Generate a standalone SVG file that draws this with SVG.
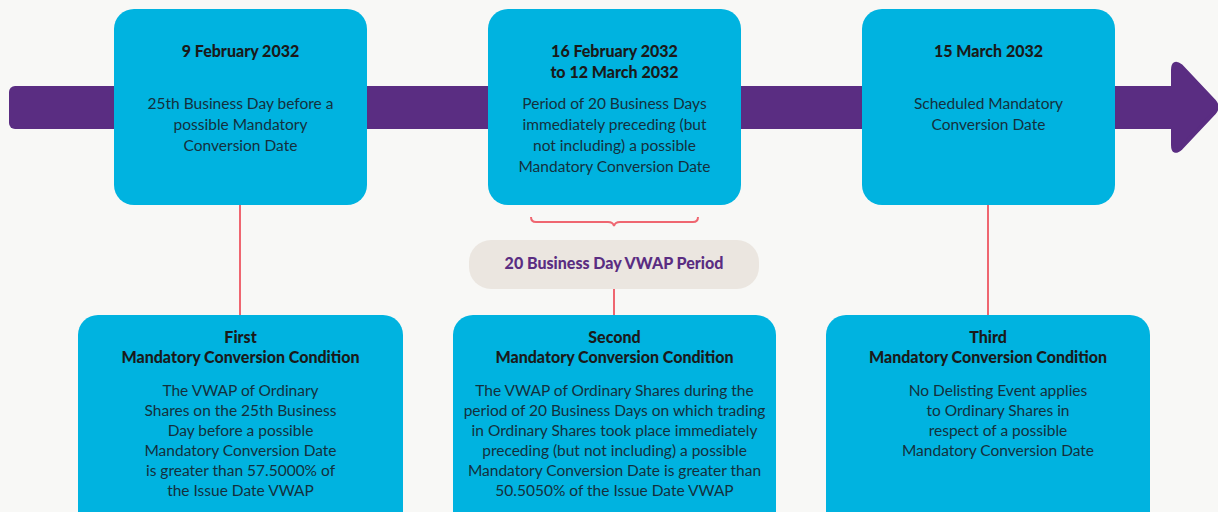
<svg xmlns="http://www.w3.org/2000/svg" width="1218" height="512" viewBox="0 0 1218 512">
<style>
.box{fill:#00b3e0}
.t{font-family:Lato,"Noto Sans",sans-serif;font-size:16px;font-weight:900;fill:#1a1a1a;text-anchor:middle}
.b{font-family:Lato,"Noto Sans",sans-serif;font-size:15.5px;fill:#14303d;text-anchor:middle}
.ln{stroke:#ef6670;stroke-width:2;fill:none}
</style>
<rect width="1218" height="512" fill="#f8f8f6"/>
<g id="timeline">
<rect x="9" y="86" width="1175" height="43" rx="6" fill="#5a2d82"/>
<path d="M1173 70 Q1173 60 1181 66 L1214 101 Q1219 107 1214 113 L1181 148 Q1173 155 1173 145 Z" fill="#5a2d82" stroke="#5a2d82" stroke-width="4" stroke-linejoin="round"/>
</g>
<g id="connectors">
<line class="ln" x1="240" y1="205" x2="240" y2="316"/>
<line class="ln" x1="988" y1="205" x2="988" y2="316"/>
<line class="ln" x1="614" y1="289" x2="614" y2="316"/>
<path class="ln" d="M531 217 Q531 222 536 222 L608 222 Q613 222 614 226 Q615 222 620 222 L693 222 Q698 222 698 217"/>
</g>
<g id="date1">
<rect class="box" x="114" y="9" width="253" height="196" rx="20"/>
<text class="t" x="240.5" y="57">9 February 2032</text>
<text class="b" x="240.5" y="109">25th Business Day before a</text>
<text class="b" x="240.5" y="130">possible Mandatory</text>
<text class="b" x="240.5" y="151">Conversion Date</text>
</g>
<g id="date2">
<rect class="box" x="488" y="9" width="253" height="196" rx="20"/>
<text class="t" x="614.5" y="57">16 February 2032</text>
<text class="t" x="614.5" y="78">to 12 March 2032</text>
<text class="b" x="614.5" y="109">Period of 20 Business Days</text>
<text class="b" x="614.5" y="130">immediately preceding (but</text>
<text class="b" x="614.5" y="151">not including) a possible</text>
<text class="b" x="614.5" y="172">Mandatory Conversion Date</text>
</g>
<g id="date3">
<rect class="box" x="862" y="9" width="253" height="196" rx="20"/>
<text class="t" x="988.5" y="57">15 March 2032</text>
<text class="b" x="988.5" y="109">Scheduled Mandatory</text>
<text class="b" x="988.5" y="130">Conversion Date</text>
</g>
<g id="vwap">
<rect x="469" y="240" width="290" height="49" rx="22" fill="#ebe6e0"/>
<text class="t" x="614" y="269" style="fill:#5a2d82">20 Business Day VWAP Period</text>
</g>
<g id="cond1">
<rect class="box" x="78" y="315" width="325" height="220" rx="20"/>
<text class="t" x="240.5" y="343">First</text>
<text class="t" x="240.5" y="363">Mandatory Conversion Condition</text>
<text class="b" x="240.5" y="396">The VWAP of Ordinary</text>
<text class="b" x="240.5" y="416">Shares on the 25th Business</text>
<text class="b" x="240.5" y="436">Day before a possible</text>
<text class="b" x="240.5" y="456">Mandatory Conversion Date</text>
<text class="b" x="240.5" y="476">is greater than 57.5000% of</text>
<text class="b" x="240.5" y="496">the Issue Date VWAP</text>
</g>
<g id="cond2">
<rect class="box" x="453" y="315" width="323" height="220" rx="20"/>
<text class="t" x="614.5" y="343">Second</text>
<text class="t" x="614.5" y="363">Mandatory Conversion Condition</text>
<text class="b" x="614.5" y="396">The VWAP of Ordinary Shares during the</text>
<text class="b" x="614.5" y="416">period of 20 Business Days on which trading</text>
<text class="b" x="614.5" y="436">in Ordinary Shares took place immediately</text>
<text class="b" x="614.5" y="456">preceding (but not including) a possible</text>
<text class="b" x="614.5" y="476">Mandatory Conversion Date is greater than</text>
<text class="b" x="614.5" y="496">50.5050% of the Issue Date VWAP</text>
</g>
<g id="cond3">
<rect class="box" x="826" y="315" width="324" height="220" rx="20"/>
<text class="t" x="988" y="343">Third</text>
<text class="t" x="988" y="363">Mandatory Conversion Condition</text>
<text class="b" x="998" y="396">No Delisting Event applies</text>
<text class="b" x="998" y="416">to Ordinary Shares in</text>
<text class="b" x="998" y="436">respect of a possible</text>
<text class="b" x="998" y="456">Mandatory Conversion Date</text>
</g>
</svg>
